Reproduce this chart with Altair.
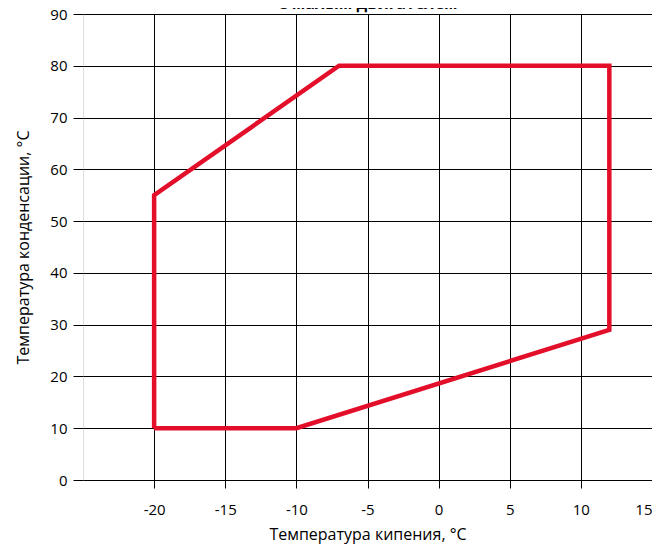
import altair as alt
import pandas as pd

# Envelope polygon (evaporating temp, condensing temp)
evap = [-20, -10, 12, 12, -7, -20, -20]
cond = [10, 10, 29, 80, 80, 55, 10]
order = list(range(len(evap)))

x_ticks = [-20, -15, -10, -5, 0, 5, 10, 15]
y_ticks = [0, 10, 20, 30, 40, 50, 60, 70, 80, 90]

df = pd.DataFrame({"evap": evap, "cond": cond, "order": order})

FONT = "Open Sans"

chart = alt.Chart(df).mark_line(color="#e30f2a", strokeWidth=4.5, strokeJoin="miter", clip=False).encode(
    x=alt.X("evap:Q", scale=alt.Scale(domain=[-25, 15], nice=False, zero=False),
            axis=alt.Axis(values=x_ticks, title="Температура кипения, °C", grid=True,
                          labelExpr="datum.value + ''",
                          gridColor="black", gridOpacity=1, gridWidth=1,
                          tickColor="black", tickSize=8, labelPadding=14,
                          domain=False, labelFontSize=15, titleFontSize=16,
                          titleFontWeight="normal", titlePadding=9,
                          labelColor="black", titleColor="black", labelFont=FONT, titleFont=FONT)),
    y=alt.Y("cond:Q", scale=alt.Scale(domain=[0, 90], nice=False),
            axis=alt.Axis(values=y_ticks, title="Температура конденсации, °C", grid=True,
                          gridColor="black", gridOpacity=1, gridWidth=1,
                          tickColor="black", tickSize=10, labelPadding=6,
                          domain=False, labelFontSize=15, titleFontSize=16,
                          titleFontWeight="normal", titlePadding=18,
                          labelColor="black", titleColor="black", labelFont=FONT, titleFont=FONT)),
    order="order:O",
).properties(
    width=569, height=466,
    title=alt.TitleParams("С малым двигателем", fontSize=16, fontWeight="bold", font=FONT,
                          color="black", dy=9),
    autosize=alt.AutoSizeParams(type="none"),
    padding={"left": 75, "top": 6, "right": 0, "bottom": 66},
).configure_view(stroke="black", strokeWidth=1.5, fill="#f8fafa").configure(background="white")

chart.save("out.html", embed_options={"renderer": "svg", "actions": False})
